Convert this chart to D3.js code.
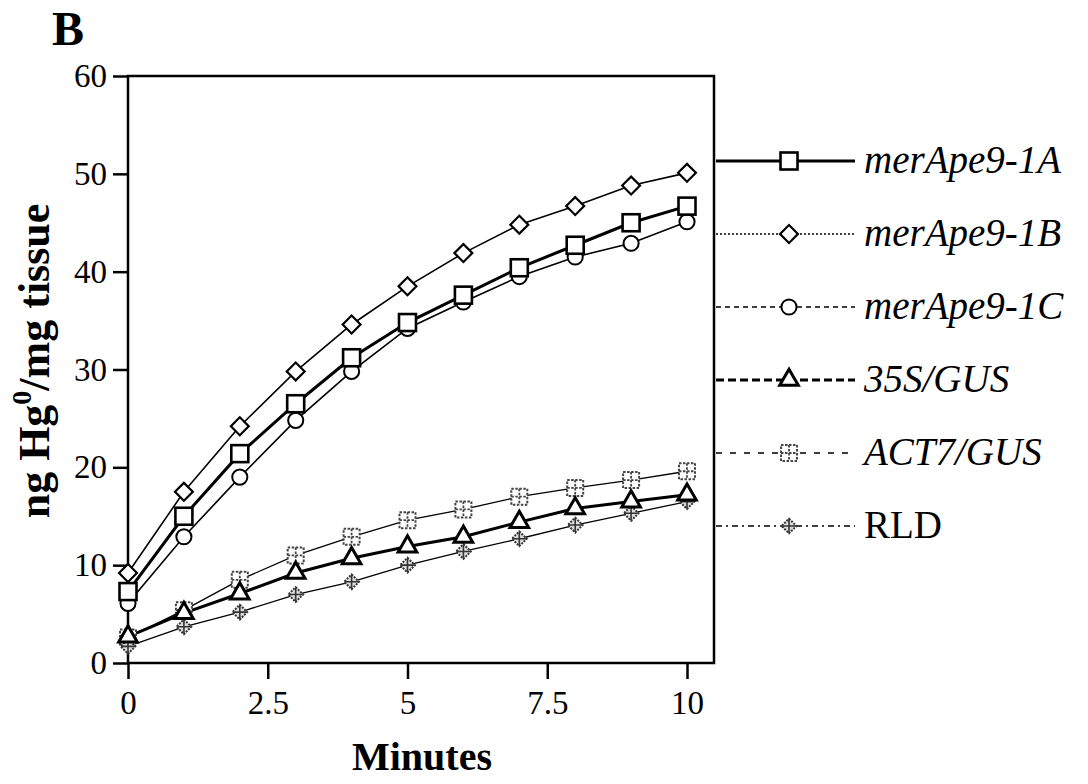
<!DOCTYPE html>
<html>
<head>
<meta charset="utf-8">
<script src="https://cdn.jsdelivr.net/npm/d3@7"></script>
<style>
  body { margin: 0; background: #fff; }
  text { font-family: "Liberation Serif", "DejaVu Serif", serif; }
</style>
</head>
<body>
<svg id="chart"></svg>
<script>
// values (ng Hg0 / mg tissue per minute)
const minutes = [0, 1, 2, 3, 4, 5, 6, 7, 8, 9, 10];
const merApe9_1A = [7.3, 15.0, 21.4, 26.5, 31.2, 34.8, 37.6, 40.4, 42.7, 45.0, 46.7];
const merApe9_1B = [9.2, 17.5, 24.2, 29.8, 34.6, 38.5, 41.9, 44.8, 46.7, 48.8, 50.1];
const merApe9_1C = [6.1, 12.9, 19.0, 24.8, 29.8, 34.2, 36.9, 39.5, 41.5, 42.9, 45.1];
const gus35S = [2.7, 5.1, 7.1, 9.2, 10.7, 11.9, 12.9, 14.4, 15.8, 16.5, 17.2];
const act7Gus = [2.6, 5.4, 8.5, 11.0, 12.9, 14.6, 15.7, 17.0, 17.9, 18.7, 19.6];
const rld = [1.7, 3.7, 5.2, 7.0, 8.3, 10.0, 11.4, 12.7, 14.1, 15.3, 16.5];

const legendLabels = ["merApe9-1A", "merApe9-1B", "merApe9-1C", "35S/GUS", "ACT7/GUS", "RLD"];
const yTicks = [0, 10, 20, 30, 40, 50, 60];
const xTicks = [0, 2.5, 5, 7.5, 10];

const width = 1088, height = 784;
const svg = d3.select("#chart").attr("width", width).attr("height", height);

const x = d3.scaleLinear().domain([0, 10]).range([128, 687]);
const y = d3.scaleLinear().domain([0, 60]).range([663, 76]);

// series styling (plot line, legend dash, marker)
const series = [
  { name: legendLabels[0], values: merApe9_1A, lw: 3, dash: null, marker: "square" },
  { name: legendLabels[1], values: merApe9_1B, lw: 1.6, dash: "2,2", marker: "diamond" },
  { name: legendLabels[2], values: merApe9_1C, lw: 1.6, dash: "5,4", marker: "circle" },
  { name: legendLabels[3], values: gus35S, lw: 3, dash: "8,4", marker: "triangle" },
  { name: legendLabels[4], values: act7Gus, lw: 1.3, dash: "6,8", marker: "hatch" },
  { name: legendLabels[5], values: rld, lw: 1.3, dash: "6,4,2,4", marker: "cross" }
];

function drawMarker(g, type, cx, cy) {
  const m = g.append("g").attr("transform", `translate(${cx},${cy})`);
  if (type === "square") {
    m.append("rect").attr("x", -8.5).attr("y", -8.5).attr("width", 17).attr("height", 17)
      .attr("fill", "#fff").attr("stroke", "#000").attr("stroke-width", 2.6);
  } else if (type === "diamond") {
    m.append("path").attr("d", d3.symbol(d3.symbolSquare, 160)())
      .attr("transform", "rotate(45)")
      .attr("fill", "#fff").attr("stroke", "#000").attr("stroke-width", 2.2);
  } else if (type === "circle") {
    m.append("path").attr("d", d3.symbol(d3.symbolCircle, 180)())
      .attr("fill", "#fff").attr("stroke", "#000").attr("stroke-width", 2);
  } else if (type === "triangle") {
    m.append("path").attr("d", d3.symbol(d3.symbolTriangle, 150)())
      .attr("fill", "#fff").attr("stroke", "#000").attr("stroke-width", 3);
  } else if (type === "hatch") {
    m.append("rect").attr("x", -8).attr("y", -8).attr("width", 16).attr("height", 16)
      .attr("fill", "#fff").attr("stroke", "#444").attr("stroke-width", 2)
      .attr("stroke-dasharray", "2.5,1.5");
    m.append("path").attr("d", "M0,-8V8M-8,0H8")
      .attr("stroke", "#444").attr("stroke-width", 1.8).attr("stroke-dasharray", "2.5,1.5");
  } else if (type === "cross") {
    m.append("path").attr("d", d3.symbol(d3.symbolSquare, 110)())
      .attr("transform", "rotate(45)")
      .attr("fill", "#ddd").attr("stroke", "#333").attr("stroke-width", 2)
      .attr("stroke-dasharray", "2,1.2");
    m.append("path").attr("d", "M0,-7V7M-7,0H7")
      .attr("stroke", "#333").attr("stroke-width", 1.6);
  }
}

// frame
svg.append("rect")
  .attr("x", x(0)).attr("y", y(60))
  .attr("width", 714 - x(0)).attr("height", y(0) - y(60))
  .attr("fill", "none").attr("stroke", "#000").attr("stroke-width", 2.5);

// axes
const yAxis = svg.append("g")
  .attr("transform", `translate(${x(0)},0)`)
  .call(d3.axisLeft(y).tickValues(yTicks).tickSize(15).tickSizeOuter(0).tickPadding(6));
const xAxis = svg.append("g")
  .attr("transform", `translate(0,${y(0)})`)
  .call(d3.axisBottom(x).tickValues(xTicks).tickFormat(d3.format("")).tickSize(16).tickSizeOuter(0).tickPadding(12));

[yAxis, xAxis].forEach(a => {
  a.select(".domain").remove();
  a.selectAll(".tick line").attr("stroke", "#000").attr("stroke-width", 2.5);
  a.selectAll(".tick text")
    .attr("fill", "#000")
    .attr("font-family", "'Liberation Serif', serif")
    .attr("font-size", 33);
});

// lines and markers
const line = d3.line().x((d, i) => x(minutes[i])).y(d => y(d));
const drawOrder = [2, 0, 1, 4, 5, 3];
const plot = svg.append("g");
drawOrder.forEach(k => {
  const s = series[k];
  plot.append("path")
    .attr("d", line(s.values))
    .attr("fill", "none")
    .attr("stroke", "#000")
    .attr("stroke-width", s.lw);
});
drawOrder.forEach(k => {
  const s = series[k];
  s.values.forEach((v, i) => drawMarker(plot, s.marker, x(minutes[i]), y(v)));
});

// legend
const legend = svg.append("g");
series.forEach((s, i) => {
  const ly = 161 + i * 73;
  legend.append("line")
    .attr("x1", 716).attr("x2", 855).attr("y1", ly).attr("y2", ly)
    .attr("stroke", "#000").attr("stroke-width", s.lw)
    .attr("stroke-dasharray", s.dash);
  drawMarker(legend, s.marker, 789, ly);
  legend.append("text")
    .attr("x", 864).attr("y", ly + 12)
    .attr("font-size", 39)
    .attr("font-style", i === 5 ? "normal" : "italic")
    .text(s.name);
});

// labels
svg.append("text")
  .attr("x", 52).attr("y", 45)
  .attr("font-size", 48).attr("font-weight", "bold")
  .text("B");

svg.append("text")
  .attr("x", 422).attr("y", 770)
  .attr("text-anchor", "middle")
  .attr("font-size", 40).attr("font-weight", "bold")
  .text("Minutes");

const yl = svg.append("text")
  .attr("transform", "translate(49,361) rotate(-90)")
  .attr("text-anchor", "middle")
  .attr("font-size", 44).attr("font-weight", "bold");
yl.append("tspan").text("ng Hg");
yl.append("tspan").attr("font-size", 28).attr("dy", -18).text("0");
yl.append("tspan").attr("dy", 18).text("/mg tissue");
</script>
</body>
</html>
